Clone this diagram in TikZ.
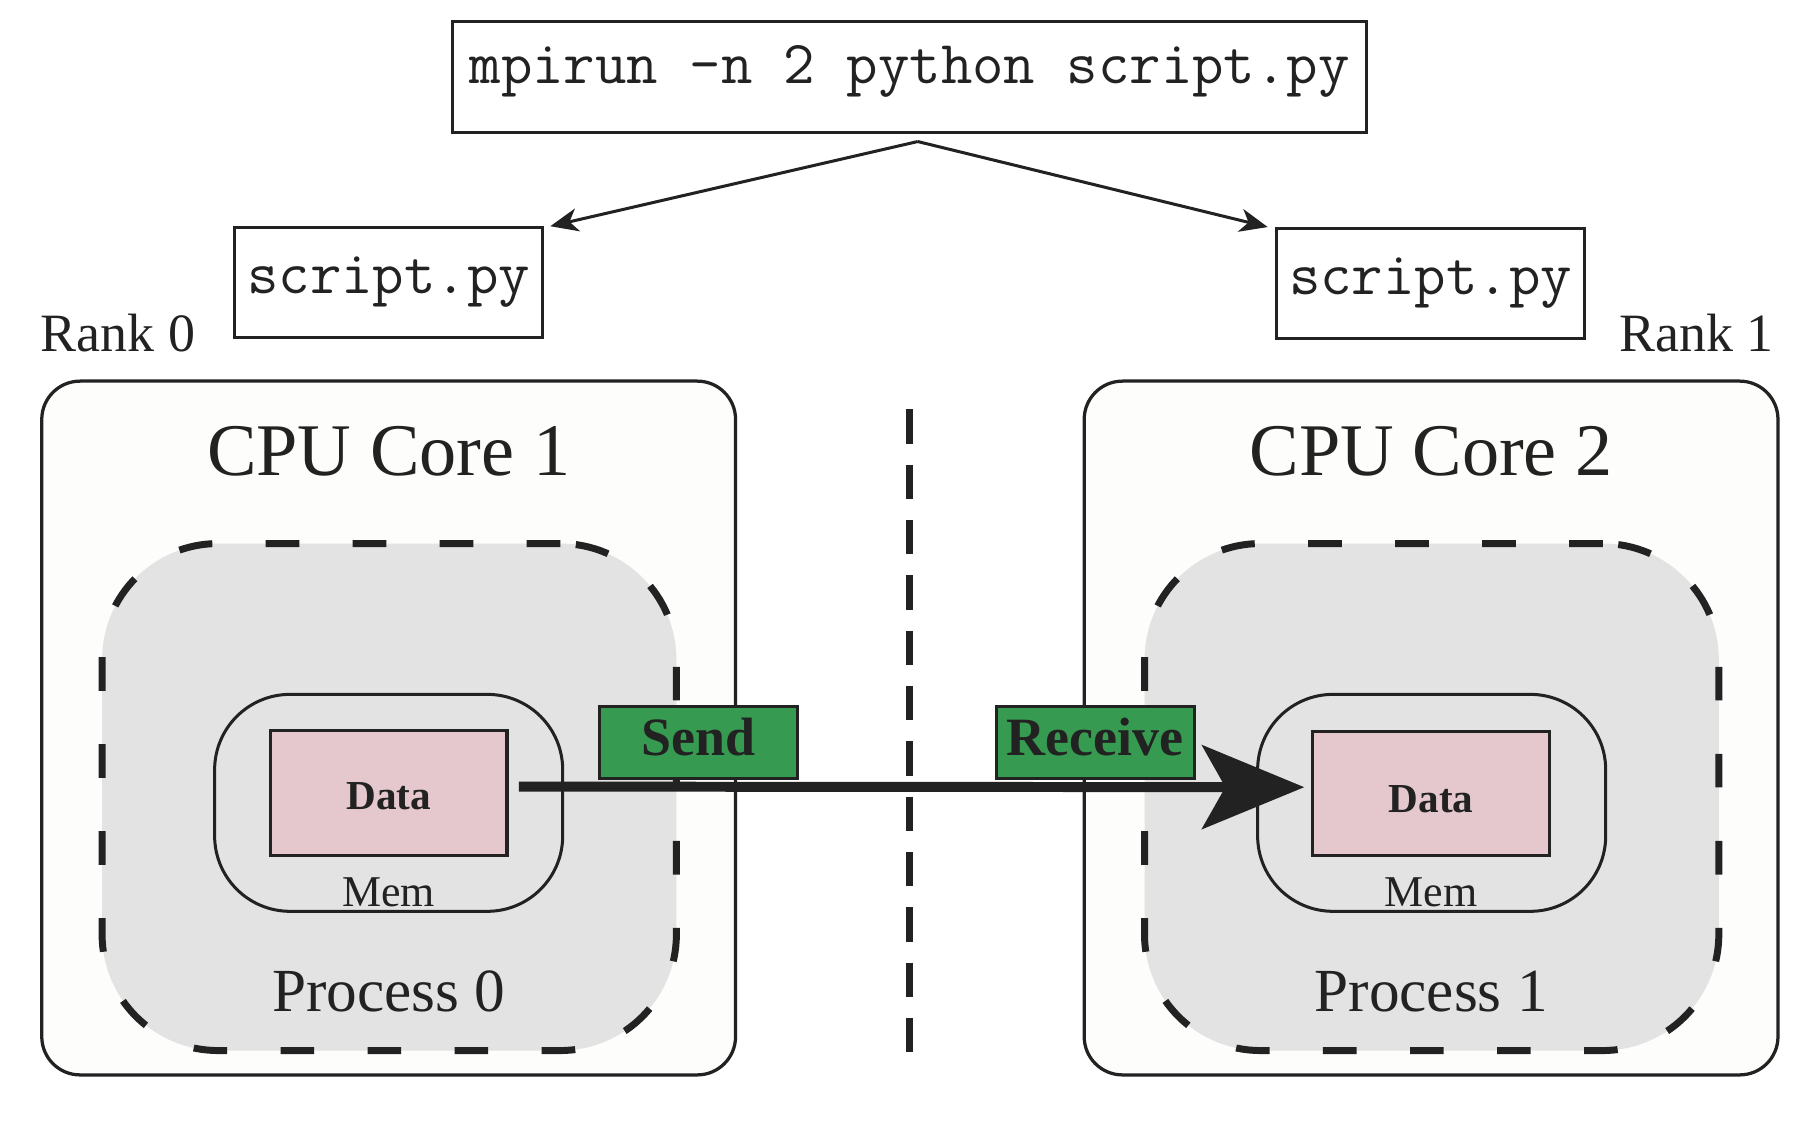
\documentclass[tikz,border=0pt]{standalone}
\usepackage{fontspec}
\setmainfont{Liberation Serif}
\usetikzlibrary{arrows.meta,calc}
\definecolor{ink}{HTML}{222222}
\definecolor{blobgray}{HTML}{E3E3E3}
\definecolor{datapink}{HTML}{E5C8CE}
\definecolor{sendgreen}{HTML}{369A50}
\definecolor{cpufill}{HTML}{FDFDFB}
\begin{document}
\begin{tikzpicture}[x=1pt,y=-1pt,
  cmdbox/.style={draw=ink, line width=2.6pt, inner sep=0pt, text=ink,
    font=\ttfamily\fontsize{52.6}{60}\selectfont},
  cpubox/.style={draw=ink, fill=cpufill, line width=2.8pt, rounded corners=33pt,
    minimum width=598pt, minimum height=598pt, inner sep=0pt},
  blob/.style={fill=blobgray, draw=ink, line width=6pt, dash pattern=on 29pt off 46pt,
    rounded corners=100pt, minimum width=495pt, minimum height=437pt, inner sep=0pt},
  membox/.style={draw=ink, line width=2.6pt, rounded corners=65pt,
    minimum width=300pt, minimum height=187pt, inner sep=0pt},
  databox/.style={draw=ink, fill=datapink, line width=2.6pt,
    minimum width=204pt, minimum height=107pt, inner sep=0pt},
  tagbox/.style={draw=ink, fill=sendgreen, line width=2.6pt,
    minimum width=171pt, minimum height=62pt, inner sep=0pt, text=ink,
    text height=31.4pt, text depth=8.2pt,
    font=\bfseries\fontsize{46.5}{54}\selectfont},
  ranklabel/.style={text=ink, inner sep=0pt, font=\fontsize{46.5}{54}\selectfont},
  corelabel/.style={text=ink, inner sep=0pt, anchor=base, font=\fontsize{64}{74}\selectfont},
  proclabel/.style={text=ink, inner sep=0pt, anchor=base, font=\fontsize{52.8}{60}\selectfont},
  memlabel/.style={text=ink, inner sep=0pt, anchor=base, font=\fontsize{37.9}{44}\selectfont},
  datalabel/.style={text=ink, inner sep=0pt, anchor=base, font=\bfseries\fontsize{35.5}{42}\selectfont},
  thinarrow/.style={draw=ink, line width=2.6pt, -{Stealth[length=24pt,width=20pt,inset=7pt]}},
  bigarrow/.style={draw=ink, line width=8.6pt, -{Stealth[length=88pt,width=72pt,inset=20pt]}},
  divider/.style={draw=ink, line width=5.8pt, dash pattern=on 29.6pt off 18.1pt}
]
\useasboundingbox (0,0) rectangle (1567,968.8);

% command and scripts
\node[cmdbox, minimum width=788pt, minimum height=96pt, text height=31.5pt, text depth=21pt]
  (cmd) at (784,66.6) {mpirun -n 2 python script.py};
\node[cmdbox, minimum width=266pt, minimum height=95pt, text height=31.5pt, text depth=13.5pt]
  (s0) at (335,243.8) {script.py};
\node[cmdbox, minimum width=266pt, minimum height=95pt, text height=31.5pt, text depth=13.5pt]
  (s1) at (1233,244.5) {script.py};
\coordinate (split) at (791,122);
\draw[thinarrow] (split) -- ([xshift=5pt]s0.north east);
\draw[thinarrow] (split) -- ([xshift=-6pt]s1.north west);

\node[ranklabel, anchor=base west] (r0) at (35,303) {Rank 0};
\node[ranklabel, anchor=base east] (r1) at (1529,303) {Rank 1};

% CPU boxes
\node[cpubox] (cpu0) at (335,627.5) {};
\node[cpubox] (cpu1) at (1233.5,627.5) {};
\node[corelabel] (core0) at (335,409.5) {CPU Core 1};
\node[corelabel] (core1) at (1233.5,409.5) {CPU Core 2};

% processes
\node[blob] (p0) at (335.5,687) {};
\node[blob] (p1) at (1234,687) {};
\node[membox] (m0) at (335,692) {};
\node[membox] (m1) at (1234,692) {};
\node[databox] (data0) at (335,683.5) {};
\node[databox] (data1) at (1233.5,684) {};
\node[datalabel] (dl0) at (335,698) {Data};
\node[datalabel] (dl1) at (1233.5,700) {Data};
\node[memlabel] (ml0) at (335,781) {Mem};
\node[memlabel] (ml1) at (1233.5,781) {Mem};
\node[proclabel] (pl0) at (335,872) {Process 0};
\node[proclabel] (pl1) at (1233.5,872) {Process 1};

% divider
\coordinate (dtop) at (784,352.8);
\coordinate (dbot) at (784,910);
\draw[divider] (dtop) -- (dbot);

% tags
\node[tagbox] (send) at (602,640) {Send};
\node[tagbox] (recv) at (944,640) {Receive};

% message arrow
\draw[bigarrow] ([xshift=9pt,yshift=5.5pt]data0.east) -- ([xshift=-6pt,yshift=5.5pt]data1.west);
\end{tikzpicture}
\end{document}
